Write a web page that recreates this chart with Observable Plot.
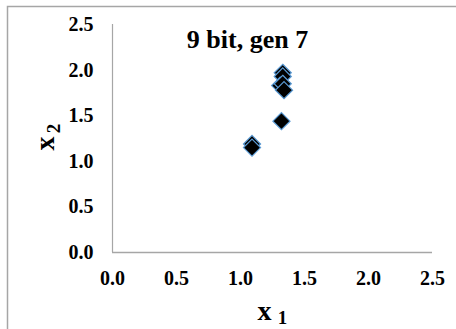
<!DOCTYPE html>
<html>
<head>
<meta charset="utf-8">
<script src="https://cdn.jsdelivr.net/npm/d3@7"></script>
<script src="https://cdn.jsdelivr.net/npm/@observablehq/plot@0.6"></script>
<style>
  html, body { margin: 0; padding: 0; background: #fff; }
  #chart { width: 456px; height: 329px; overflow: hidden; }
</style>
</head>
<body>
<div id="chart"></div>
<script>
// Data
const x1 = [1.33, 1.33, 1.31, 1.33, 1.34, 1.32, 1.09, 1.09];
const x2 = [1.97, 1.93, 1.83, 1.85, 1.78, 1.44, 1.19, 1.15];
const ticks = [0, 0.5, 1.0, 1.5, 2.0, 2.5];
const title = "9 bit, gen 7";

const points = x1.map((v, i) => ({x1: v, x2: x2[i]}));
const serif = "'Liberation Serif', 'Times New Roman', serif";
const gray = "#a6a6a6";

const plot = Plot.plot({
  width: 456,
  height: 329,
  marginLeft: 112,
  marginRight: 24,
  marginTop: 24,
  marginBottom: 77,
  style: {fontFamily: serif, fontSize: "19px", fontWeight: "bold", color: "#000", background: "#fff"},
  x: {domain: [0, 2.5]},
  y: {domain: [0, 2.5]},
  marks: [
    Plot.axisX({ticks, tickSize: 0, tickPadding: 18, tickFormat: d3.format(".1f"), label: null, fontSize: 20, fontWeight: "bold", fontFamily: serif}),
    Plot.axisY({ticks, tickSize: 0, tickPadding: 19, tickFormat: d3.format(".1f"), label: null, fontSize: 20, fontWeight: "bold", fontFamily: serif}),
    Plot.ruleX([0], {stroke: gray, strokeWidth: 1.2}),
    Plot.ruleY([0], {stroke: gray, strokeWidth: 1.6}),
    Plot.dot(points, {x: "x1", y: "x2", symbol: "diamond2", r: 7.7, fill: "#000", stroke: "#5b9bd5", strokeWidth: 1.2}),
    Plot.text([title], {frameAnchor: "top-left", dx: 135, dy: 23, textAnchor: "middle", lineAnchor: "bottom", fontSize: 26, fontWeight: "bold", fontFamily: serif, fill: "#000"}),
    // x-axis label "x" with subscript "1"
    Plot.text(["x"], {frameAnchor: "bottom-left", dx: 152, dy: 67, textAnchor: "middle", lineAnchor: "bottom", fontSize: 28, fontWeight: "bold", fontFamily: serif, fill: "#000"}),
    Plot.text(["1"], {frameAnchor: "bottom-left", dx: 170, dy: 71, textAnchor: "middle", lineAnchor: "bottom", fontSize: 19, fontWeight: "bold", fontFamily: serif, fill: "#000"}),
    // y-axis label "x" with subscript "2" (rotated)
    Plot.text(["x"], {frameAnchor: "top-left", dx: -59, dy: 119, rotate: -90, textAnchor: "middle", lineAnchor: "bottom", fontSize: 28, fontWeight: "bold", fontFamily: serif, fill: "#000"}),
    Plot.text(["2"], {frameAnchor: "top-left", dx: -53, dy: 104, rotate: -90, textAnchor: "middle", lineAnchor: "bottom", fontSize: 19, fontWeight: "bold", fontFamily: serif, fill: "#000"})
  ]
});

// chart-area border (extends beyond the visible window like the reference)
d3.select(plot).insert("rect", ":first-child")
  .attr("x", 7.5).attr("y", 6.5).attr("width", 480).attr("height", 360)
  .attr("fill", "none").attr("stroke", gray).attr("stroke-width", 1.5);

document.getElementById("chart").appendChild(plot);
</script>
</body>
</html>
